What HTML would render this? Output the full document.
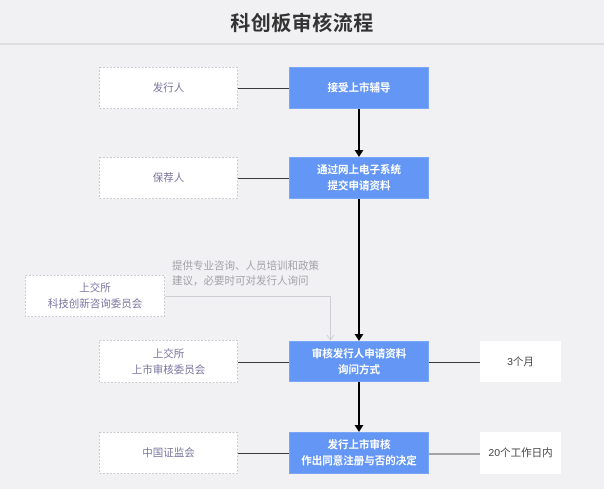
<!DOCTYPE html>
<html>
<head>
<meta charset="utf-8">
<style>
  html, body { margin:0; padding:0; }
  body { width:604px; height:489px; background:#f1f0f3; position:relative; overflow:hidden;
    font-family:"Liberation Sans","Noto Sans CJK SC",sans-serif; }
  .title { position:absolute; left:0; width:604px; top:11px; text-align:center; font-size:20px; font-weight:bold; color:#333; line-height:26px; letter-spacing:0.5px; }
  .hline { position:absolute; left:0; top:43px; width:604px; height:2px; background:#dddcdf; }
  .box { position:absolute; display:flex; align-items:center; justify-content:center; text-align:center; font-size:10.5px; line-height:16px; box-sizing:border-box; }
  .lbox { background:#fff; color:#7a76a0; }
  .bbox { background:#6496f6; border:1px solid #7aa6f8; color:#fff; font-weight:bold; }
  .rbox { background:#fff; color:#444; }
  .note { position:absolute; left:172px; top:259px; font-size:10.5px; line-height:15px; color:#a3a3a8; white-space:nowrap; }
  svg { position:absolute; left:0; top:0; }
</style>
</head>
<body>
<div class="title">科创板审核流程</div>
<div class="hline"></div>

<div class="box lbox" style="left:99px;top:67px;width:139px;height:42px;">发行人</div>
<div class="box lbox" style="left:99px;top:157px;width:139px;height:42px;">保荐人</div>
<div class="box lbox" style="left:25px;top:275px;width:140px;height:42px;">上交所<br>科技创新咨询委员会</div>
<div class="box lbox" style="left:99px;top:340px;width:139px;height:43px;">上交所<br>上市审核委员会</div>
<div class="box lbox" style="left:99px;top:432px;width:139px;height:42px;">中国证监会</div>

<svg width="604" height="489" viewBox="0 0 604 489">
  <!-- dashed borders for left boxes -->
  <g fill="none" stroke="#c9c9cf" stroke-width="1" stroke-dasharray="2,1.5">
    <rect x="99.5" y="67.5" width="138" height="41"/>
    <rect x="99.5" y="157.5" width="138" height="41"/>
    <rect x="25.5" y="275.5" width="139" height="41"/>
    <rect x="99.5" y="340.5" width="138" height="42"/>
    <rect x="99.5" y="432.5" width="138" height="41"/>
  </g>
  <!-- left connectors -->
  <g stroke="#3a3a3a" stroke-width="1">
    <line x1="238" y1="88.5" x2="289" y2="88.5"/>
    <line x1="238" y1="178.5" x2="289" y2="178.5"/>
    <line x1="238" y1="362.5" x2="289" y2="362.5"/>
    <line x1="238" y1="453.5" x2="289" y2="453.5"/>
    <line x1="429" y1="362.5" x2="480" y2="362.5"/>
  </g>
  <line x1="429" y1="454" x2="480" y2="454" stroke="#8a8a8a" stroke-width="1.5"/>
  <!-- vertical arrows -->
  <line x1="359" y1="109" x2="359" y2="151" stroke="#000" stroke-width="2"/>
  <polygon points="354.5,150 363.5,150 359,157" fill="#000"/>
  <line x1="359" y1="199" x2="359" y2="335" stroke="#000" stroke-width="2"/>
  <polygon points="354.5,334 363.5,334 359,341" fill="#000"/>
  <line x1="359" y1="382" x2="359" y2="426" stroke="#000" stroke-width="2"/>
  <polygon points="354.5,425 363.5,425 359,432" fill="#000"/>
  <!-- gray connector from 科技 box -->
  <polyline points="165,296.5 330.5,296.5 330.5,340" fill="none" stroke="#cfcfd4" stroke-width="1"/>
  <polyline points="327,335 330.5,340 334,335" fill="none" stroke="#cfcfd4" stroke-width="1"/>
</svg>

<div class="box bbox" style="left:289px;top:67px;width:140px;height:42px;">接受上市辅导</div>
<div class="box bbox" style="left:289px;top:157px;width:140px;height:42px;">通过网上电子系统<br>提交申请资料</div>
<div class="box bbox" style="left:289px;top:341px;width:140px;height:41px;">审核发行人申请资料<br>询问方式</div>
<div class="box bbox" style="left:289px;top:432px;width:140px;height:42px;">发行上市审核<br>作出同意注册与否的决定</div>

<div class="box rbox" style="left:480px;top:341px;width:81px;height:41px;">3个月</div>
<div class="box rbox" style="left:480px;top:432px;width:81px;height:42px;">20个工作日内</div>

<div class="note">提供专业咨询、人员培训和政策<br>建议，必要时可对发行人询问</div>
</body>
</html>
